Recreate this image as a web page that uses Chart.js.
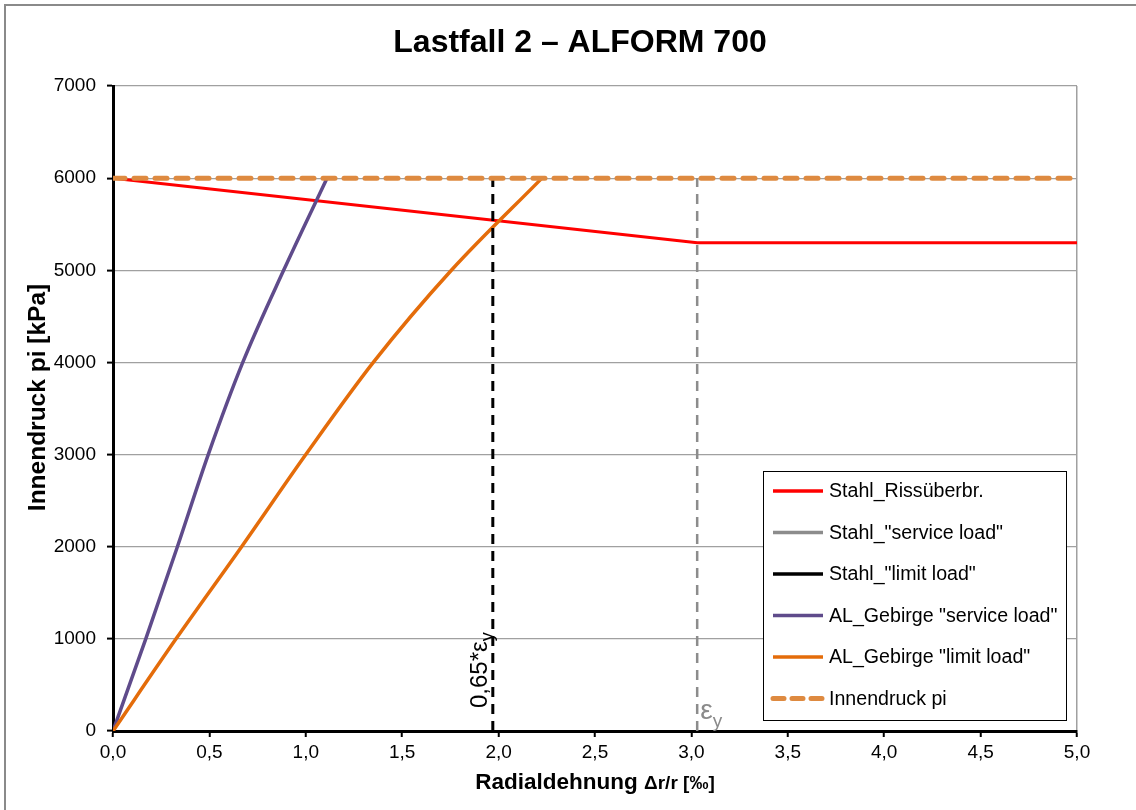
<!DOCTYPE html>
<html>
<head>
<meta charset="utf-8">
<script src="https://cdn.jsdelivr.net/npm/chart.js@4.4.1/dist/chart.umd.min.js"></script>
<style>
  html, body { margin: 0; padding: 0; background: #fff; }
  #wrap { width: 1136px; height: 810px; position: relative; }
</style>
</head>
<body>
<div id="wrap"><canvas id="c" width="1136" height="810"></canvas></div>
<script>
// Load steps of the inner pressure [kPa]
const pressureSteps = [0, 1000, 2000, 3000, 4000, 5000, 6000];
// Radial strain of the rock mass (AL_Gebirge) at those pressures [‰]
const strainServiceAL = [0, 0.17, 0.334, 0.494, 0.673, 0.885, 1.11];
const strainLimitAL   = [0, 0.327, 0.667, 1.0, 1.35, 1.755, 2.225];
// Steel crack-bridging curve
const crackStrain   = [0, 3.03, 5.0];
const crackPressure = [6000, 5300, 5300];
// Inner pressure pi
const innerStrain   = [0, 5.0];
const innerPressure = [6000, 6000];
// Yield strain of the steel and 0.65 of it [‰]
const epsY = 3.03;
const epsLimit = 1.97;
const steelServiceStrain = [epsY, epsY];
const steelLimitStrain   = [epsLimit, epsLimit];
const steelPressure      = [0, 6000];
// Tick labels
const xTickLabels = ['0,0','0,5','1,0','1,5','2,0','2,5','3,0','3,5','4,0','4,5','5,0'];
const yTickLabels = ['0','1000','2000','3000','4000','5000','6000','7000'];

const FONT = "'Liberation Sans', Arial, sans-serif";

function pts(xs, ys) { return xs.map((x, i) => ({ x: x, y: ys[i] })); }

const datasets = [
  { label: 'Stahl_Rissüberbr.', data: pts(crackStrain, crackPressure),
    borderColor: '#ff0000', borderWidth: 3, order: 6 },
  { label: 'Stahl_"service load"', data: pts(steelServiceStrain, steelPressure),
    borderColor: '#8c8c8c', borderWidth: 2.5, borderDash: [10, 7], order: 3, legendColor: '#8c8c8c' },
  { label: 'Stahl_"limit load"', data: pts(steelLimitStrain, steelPressure),
    borderColor: '#000000', borderWidth: 3, borderDash: [10, 7], order: 2, legendColor: '#000000' },
  { label: 'AL_Gebirge "service load"', data: pts(strainServiceAL, pressureSteps),
    borderColor: '#5f4b8b', borderWidth: 3.5, cubicInterpolationMode: 'monotone', order: 5 },
  { label: 'AL_Gebirge "limit load"', data: pts(strainLimitAL, pressureSteps),
    borderColor: '#e46c0a', borderWidth: 3.5, cubicInterpolationMode: 'monotone', order: 4 },
  { label: 'Innendruck pi', data: pts(innerStrain, innerPressure),
    borderColor: '#de8a40', borderWidth: 5, borderDash: [12, 9], borderCapStyle: 'round',
    order: 1, legendDash: [11, 8] }
];
datasets.forEach(d => { d.showLine = true; d.pointRadius = 0; d.fill = false; d.tension = 0; });

// Frame, title, axis titles, strain markers and the legend box
const decorations = {
  id: 'decorations',
  beforeDraw(chart) {
    const ctx = chart.ctx;
    ctx.save();
    ctx.fillStyle = '#fff';
    ctx.fillRect(0, 0, chart.width, chart.height);
    ctx.strokeStyle = '#8a8a8a';
    ctx.lineWidth = 2;
    ctx.strokeRect(5, 5, chart.width + 20, chart.height + 20);
    ctx.restore();
  },
  afterDraw(chart) {
    const ctx = chart.ctx;
    const area = chart.chartArea;
    const xs = chart.scales.x, ys = chart.scales.y;
    ctx.save();

    // Title
    ctx.fillStyle = '#000';
    ctx.font = `bold 32px ${FONT}`;
    ctx.textAlign = 'center';
    ctx.textBaseline = 'alphabetic';
    ctx.fillText('Lastfall 2 – ALFORM 700', 580, 52);

    // X axis title: "Radialdehnung" plus smaller unit part
    const part1 = 'Radialdehnung ', part2 = 'Δr/r [‰]';
    ctx.font = `bold 22.5px ${FONT}`;
    const w1 = ctx.measureText(part1).width;
    ctx.font = `bold 19px ${FONT}`;
    const w2 = ctx.measureText(part2).width;
    let x0 = (area.left + area.right) / 2 - (w1 + w2) / 2;
    ctx.textAlign = 'left';
    ctx.font = `bold 22.5px ${FONT}`;
    ctx.fillText(part1, x0, 789);
    ctx.font = `bold 19px ${FONT}`;
    ctx.fillText(part2, x0 + w1, 789);

    // Y axis title
    ctx.save();
    ctx.translate(45, (area.top + area.bottom) / 2 - 11);
    ctx.rotate(-Math.PI / 2);
    ctx.textAlign = 'center';
    ctx.font = `bold 24.5px ${FONT}`;
    ctx.fillText('Innendruck pi [kPa]', 0, 0);
    ctx.restore();

    // 0,65*εy label along the limit-load line
    const xl = xs.getPixelForValue(epsLimit);
    const yb = ys.getPixelForValue(0);
    ctx.save();
    ctx.translate(xl - 6, yb - 23);
    ctx.rotate(-Math.PI / 2);
    ctx.textAlign = 'left';
    ctx.fillStyle = '#000';
    ctx.font = `24px ${FONT}`;
    const main = '0,65*ε';
    ctx.fillText(main, 0, 0);
    const mw = ctx.measureText(main).width;
    ctx.font = `18px ${FONT}`;
    ctx.fillText('y', mw, 6);
    ctx.restore();

    // εy label at the service-load line
    const xsv = xs.getPixelForValue(epsY);
    ctx.fillStyle = '#8a8a8a';
    ctx.textAlign = 'left';
    ctx.font = `28px ${FONT}`;
    ctx.fillText('ε', xsv + 3, yb - 12);
    const ew = ctx.measureText('ε').width;
    ctx.font = `19px ${FONT}`;
    ctx.fillText('y', xsv + 3 + ew, yb - 4);

    // Legend box
    const bw = 303, bh = 249;
    const bx = area.right - 11 - bw, by = area.bottom - 11 - bh;
    ctx.fillStyle = '#fff';
    ctx.fillRect(bx, by, bw, bh);
    ctx.strokeStyle = '#000';
    ctx.lineWidth = 1;
    ctx.strokeRect(bx + 0.5, by + 0.5, bw, bh);
    ctx.font = `19.6px ${FONT}`;
    ctx.textBaseline = 'middle';
    chart.data.datasets.forEach((d, i) => {
      const cy = by + 20 + i * 41.5;
      ctx.save();
      ctx.strokeStyle = d.legendColor || d.borderColor;
      ctx.lineWidth = d.legendDash ? 5 : 3.5;
      ctx.setLineDash(d.legendDash || []);
      ctx.lineCap = d.legendDash ? 'round' : 'butt';
      ctx.beginPath();
      ctx.moveTo(bx + 10, cy);
      ctx.lineTo(bx + 60, cy);
      ctx.stroke();
      ctx.restore();
      ctx.fillStyle = '#000';
      ctx.fillText(d.label, bx + 66, cy + 1);
    });
    ctx.restore();
  }
};

new Chart(document.getElementById('c'), {
  type: 'scatter',
  data: { datasets: datasets },
  plugins: [decorations],
  options: {
    responsive: false,
    animation: false,
    devicePixelRatio: 1,
    layout: { padding: { left: 0, right: 59, top: 86, bottom: 0 } },
    plugins: { legend: { display: false }, tooltip: { enabled: false }, title: { display: false } },
    scales: {
      x: {
        type: 'linear', min: 0, max: 5,
        afterFit(scale) { scale.height = 79; },
        afterBuildTicks(scale) { scale.ticks = xTickLabels.map((_, i) => ({ value: i * 0.5 })); },
        ticks: {
          color: '#000', padding: 4, maxRotation: 0, autoSkip: false,
          font: { family: FONT, size: 19 },
          callback: (v, i) => xTickLabels[i]
        },
        grid: {
          color: ctx => (ctx.tick && ctx.tick.value === 5 ? '#a0a0a0' : 'rgba(0,0,0,0)'),
          lineWidth: 1.5, tickColor: '#000', tickLength: 6, tickWidth: 2
        },
        border: { color: '#000', width: 3 }
      },
      y: {
        type: 'linear', min: 0, max: 7000,
        afterFit(scale) { scale.width = 113; },
        afterBuildTicks(scale) { scale.ticks = yTickLabels.map((_, i) => ({ value: i * 1000 })); },
        ticks: {
          color: '#000', padding: 11, autoSkip: false,
          font: { family: FONT, size: 19 },
          callback: (v, i) => yTickLabels[i]
        },
        grid: { color: '#a0a0a0', lineWidth: 1.2, tickColor: '#000', tickLength: 6, tickWidth: 2 },
        border: { color: '#000', width: 3 }
      }
    }
  }
});
</script>
</body>
</html>
